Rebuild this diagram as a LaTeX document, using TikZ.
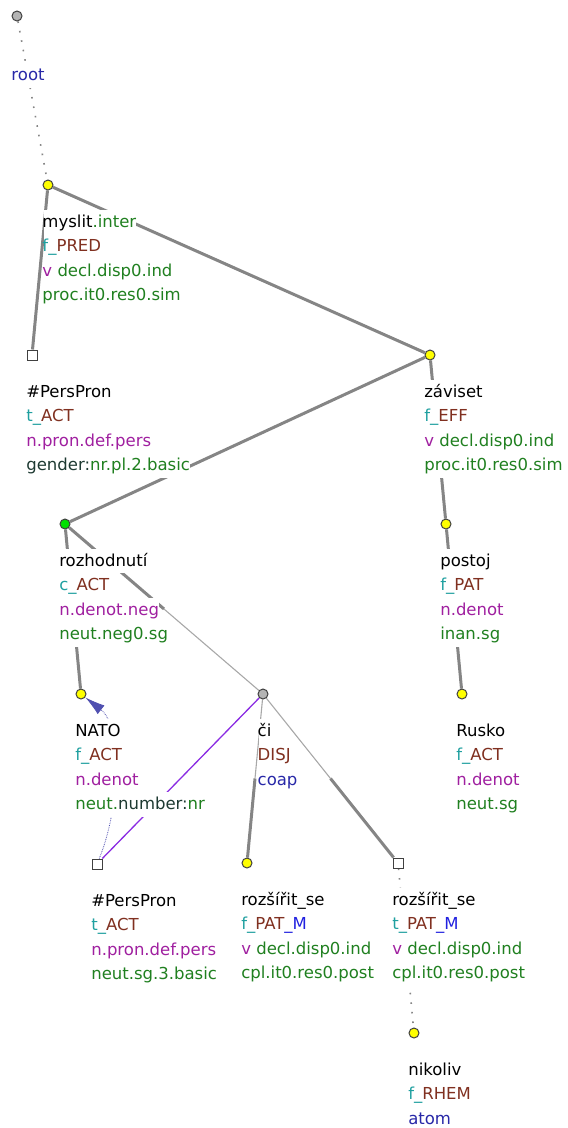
\documentclass[tikz,border=0pt]{standalone}
\usepackage{fontspec}
\setmainfont{DejaVu Sans}
\usepackage{tikz}
\usetikzlibrary{arrows.meta, calc, backgrounds}
\definecolor{grisArista}{HTML}{858585}
\definecolor{grisFino}{HTML}{A8A8A8}
\definecolor{amarilloNodo}{HTML}{FFFF00}
\definecolor{verdeNodo}{HTML}{00E000}
\definecolor{grisNodo}{HTML}{B4B4B4}
\definecolor{bordeNodo}{HTML}{404040}
\definecolor{turquesa}{HTML}{20A0A0}
\definecolor{granate}{HTML}{803020}
\definecolor{morado}{HTML}{A020A0}
\definecolor{verdeTexto}{HTML}{208020}
\definecolor{azulTexto}{HTML}{2828A8}
\definecolor{azulM}{HTML}{2020E0}
\definecolor{oscuro}{HTML}{1E3A32}
\definecolor{violeta}{HTML}{8A2BE2}
\definecolor{azulCoref}{HTML}{5050B0}
\newcommand{\fondo}[1]{{\setlength{\fboxsep}{0pt}%
  \colorbox{white}{\rule[-7pt]{0pt}{24.5pt}\kern-1.2pt#1}}}
\newcommand{\functor}[2]{\textcolor{turquesa}{#1\_}\textcolor{granate}{#2}}
\newcommand{\verde}[1]{\textcolor{verdeTexto}{#1}}
\newcommand{\morado}[1]{\textcolor{morado}{#1}}
\tikzset{
  nodoBase/.style={draw=bordeNodo, line width=1pt, inner sep=0pt, minimum size=10pt},
  nodoAmarillo/.style={nodoBase, circle, fill=amarilloNodo},
  nodoVerde/.style={nodoBase, circle, fill=verdeNodo},
  nodoGris/.style={nodoBase, circle, fill=grisNodo},
  nodoCuadro/.style={nodoBase, rectangle, fill=white},
  etiqueta/.style={anchor=north west, align=left, inner sep=0pt,
    font=\fontsize{16.5}{24.5}\selectfont},
  arista/.style={line width=3pt, grisArista},
  aristaFina/.style={line width=1.1pt, grisFino},
  aristaPunteada/.style={line width=1.6pt, grisArista, dash pattern=on 1.6pt off 8pt},
  lineaCoord/.style={line width=1.3pt, violeta},
  flechaCoref/.style={azulCoref, line width=0.8pt, densely dotted,
    -{Latex[length=20pt, width=11pt]}},
}
\begin{document}
\begin{tikzpicture}[x=1pt, y=-1pt]
  \useasboundingbox (0,0) rectangle (568,1128);
  % nodos del arbol
  \node[nodoGris] (root) at (17,16) {};
  \node[nodoAmarillo] (myslit) at (48,185) {};
  \node[nodoCuadro] (pp1) at (32,355) {};
  \node[nodoAmarillo] (zaviset) at (430,355) {};
  \node[nodoVerde] (rozhodnuti) at (65,524) {};
  \node[nodoAmarillo] (postoj) at (446,524) {};
  \node[nodoAmarillo] (nato) at (81,694) {};
  \node[nodoGris] (ci) at (263,694) {};
  \node[nodoAmarillo] (rusko) at (462,694) {};
  \node[nodoCuadro] (pp2) at (97,864) {};
  \node[nodoAmarillo] (rozsirit1) at (247,863) {};
  \node[nodoCuadro] (rozsirit2) at (398,863) {};
  \node[nodoAmarillo] (nikoliv) at (414,1033) {};

  % etiquetas
  \node[etiqueta] (lroot) at ($(root)+(-4.5,47)$) {\fondo{\textcolor{azulTexto}{root}}};
  \node[etiqueta] (lmyslit) at ($(myslit)+(-4.5,24.5)$) {%
    \fondo{myslit\verde{.inter}}\\
    \fondo{\functor{f}{PRED}}\\
    \fondo{\morado{v} \verde{decl.disp0.ind}}\\
    \fondo{\verde{proc.it0.res0.sim}}};
  \node[etiqueta] (lpp1) at ($(pp1)+(-4.7,24.5)$) {%
    \fondo{\#PersPron}\\
    \fondo{\functor{t}{ACT}}\\
    \fondo{\morado{n.pron.def.pers}}\\
    \fondo{\textcolor{oscuro}{gender:}\verde{nr.pl.2.basic}}};
  \node[etiqueta] (lzaviset) at ($(zaviset)+(-4.7,24.5)$) {%
    \fondo{záviset}\\
    \fondo{\functor{f}{EFF}}\\
    \fondo{\morado{v} \verde{decl.disp0.ind}}\\
    \fondo{\verde{proc.it0.res0.sim}}};
  \node[etiqueta] (lrozhodnuti) at ($(rozhodnuti)+(-4.7,24.5)$) {%
    \fondo{rozhodnutí}\\
    \fondo{\functor{c}{ACT}}\\
    \fondo{\morado{n.denot.neg}}\\
    \fondo{\verde{neut.neg0.sg}}};
  \node[etiqueta] (lpostoj) at ($(postoj)+(-4.7,24.5)$) {%
    \fondo{postoj}\\
    \fondo{\functor{f}{PAT}}\\
    \fondo{\morado{n.denot}}\\
    \fondo{\verde{inan.sg}}};
  \node[etiqueta] (lnato) at ($(nato)+(-4.7,24.5)$) {%
    \fondo{NATO}\\
    \fondo{\functor{f}{ACT}}\\
    \fondo{\morado{n.denot}}\\
    \fondo{\verde{neut.}\textcolor{oscuro}{number:}\verde{nr}}};
  \node[etiqueta] (lci) at ($(ci)+(-4.3,24.5)$) {%
    \fondo{či}\\
    \fondo{\textcolor{granate}{DISJ}}\\
    \fondo{\textcolor{azulTexto}{coap}}};
  \node[etiqueta] (lrusko) at ($(rusko)+(-4.7,24.5)$) {%
    \fondo{Rusko}\\
    \fondo{\functor{f}{ACT}}\\
    \fondo{\morado{n.denot}}\\
    \fondo{\verde{neut.sg}}};
  \node[etiqueta] (lpp2) at ($(pp2)+(-4.7,24.5)$) {%
    \fondo{\#PersPron}\\
    \fondo{\functor{t}{ACT}}\\
    \fondo{\morado{n.pron.def.pers}}\\
    \fondo{\verde{neut.sg.3.basic}}};
  \node[etiqueta] (lrozsirit1) at ($(rozsirit1)+(-4.7,24.5)$) {%
    \fondo{rozšířit\_se}\\
    \fondo{\functor{f}{PAT}\textcolor{azulM}{\_M}}\\
    \fondo{\morado{v} \verde{decl.disp0.ind}}\\
    \fondo{\verde{cpl.it0.res0.post}}};
  \node[etiqueta] (lrozsirit2) at ($(rozsirit2)+(-4.7,24.5)$) {%
    \fondo{rozšířit\_se}\\
    \fondo{\functor{t}{PAT}\textcolor{azulM}{\_M}}\\
    \fondo{\morado{v} \verde{decl.disp0.ind}}\\
    \fondo{\verde{cpl.it0.res0.post}}};
  \node[etiqueta] (lnikoliv) at ($(nikoliv)+(-4.7,24.5)$) {%
    \fondo{nikoliv}\\
    \fondo{\functor{f}{RHEM}}\\
    \fondo{\textcolor{azulTexto}{atom}}};

  % aristas
  \begin{scope}[on background layer]
    \draw[aristaPunteada] (root) -- (myslit);
    \draw[arista] (myslit) -- (pp1);
    \draw[arista] (myslit) -- (zaviset);
    \draw[arista] (zaviset) -- (rozhodnuti);
    \draw[arista] (zaviset) -- (postoj);
    \draw[arista] (postoj) -- (rusko);
    \draw[arista] (rozhodnuti) -- (nato);
    \draw[arista] (rozhodnuti) -- ($(rozhodnuti)!0.5!(ci)$);
    \draw[aristaFina] ($(rozhodnuti)!0.5!(ci)$) -- (ci);
    \draw[aristaFina] (ci) -- ($(ci)!0.5!(rozsirit1)$);
    \draw[arista] ($(ci)!0.5!(rozsirit1)$) -- (rozsirit1);
    \draw[aristaFina] (ci) -- ($(ci)!0.5!(rozsirit2)$);
    \draw[arista] ($(ci)!0.5!(rozsirit2)$) -- (rozsirit2);
    \draw[aristaPunteada] (rozsirit2) -- (nikoliv);
    \draw[lineaCoord] (ci) -- (pp2);
    \draw[flechaCoref] (pp2) .. controls (120,808) and (123,727) .. (nato);
  \end{scope}
\end{tikzpicture}
\end{document}
